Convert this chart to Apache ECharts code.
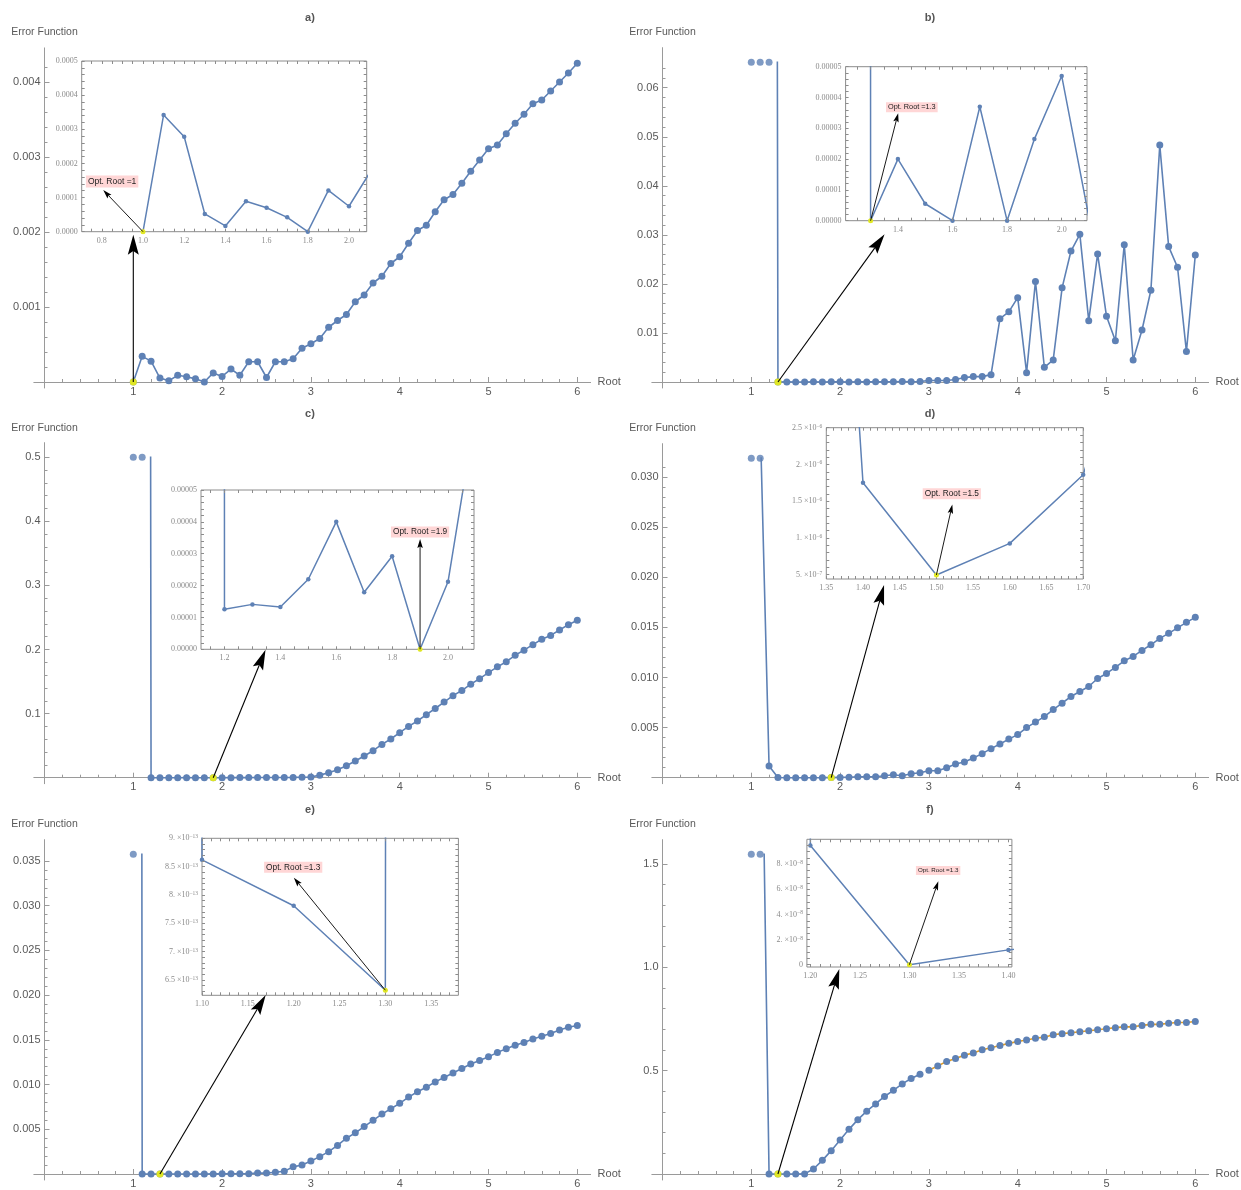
<!DOCTYPE html>
<html>
<head>
<meta charset="utf-8">
<title>Error function against root</title>
<script src="https://cdn.jsdelivr.net/npm/echarts@6.0.0/dist/echarts.min.js"></script>
<style>
  html, body { margin: 0; padding: 0; background: #fff; }
  #chart { width: 1241px; height: 1190px; }
</style>
</head>
<body>
<div id="chart"></div>
<script>
// sampled roots, shared by the six runs
const roots = [1.0, 1.1, 1.2, 1.3, 1.4, 1.5, 1.6, 1.7, 1.8, 1.9,
  2.0, 2.1, 2.2, 2.3, 2.4, 2.5, 2.6, 2.7, 2.8, 2.9,
  3.0, 3.1, 3.2, 3.3, 3.4, 3.5, 3.6, 3.7, 3.8, 3.9,
  4.0, 4.1, 4.2, 4.3, 4.4, 4.5, 4.6, 4.7, 4.8, 4.9,
  5.0, 5.1, 5.2, 5.3, 5.4, 5.5, 5.6, 5.7, 5.8, 5.9, 6.0];

// error function of each run; values above a panel's plot range are off-scale
const errA = [0, 0.000342, 0.000278, 0.000052, 0.000017, 0.000089, 0.00007, 0.000042, 0, 0.000121,
  0.0000745, 0.000172, 0.00009, 0.00027, 0.00027, 0.00006, 0.00027, 0.00027, 0.00031, 0.00045,
  0.00051, 0.00058, 0.00073, 0.00082, 0.0009, 0.00107, 0.00116, 0.00132, 0.00141, 0.00158,
  0.00167, 0.00185, 0.00202, 0.00209, 0.00227, 0.00243, 0.0025, 0.00265, 0.00281, 0.00296,
  0.00311, 0.00316, 0.00331, 0.00345, 0.00357, 0.00371, 0.00376, 0.00388, 0.004, 0.00412, 0.00425];
const errB = [1, 1, 1, 0, 0.00002, 0.0000055, 0, 0.000037, 0, 0.0000265,
  0.000047, 0.000001, 0.00004, 0.00002, 0.00006, 0.00003, 0.00005, 0.00008, 0.00004, 0.0001,
  0.0003, 0.0003, 0.0003, 0.0005, 0.0009, 0.0011, 0.0011, 0.0015, 0.0129, 0.0143,
  0.0172, 0.0019, 0.0205, 0.003, 0.0045, 0.0192, 0.0267, 0.0301, 0.0125, 0.0261,
  0.0134, 0.0084, 0.028, 0.0045, 0.0106, 0.0187, 0.0483, 0.0276, 0.0234, 0.0062, 0.0259];
const errC = [10, 10, 0.0000126, 0.0000141, 0.0000133, 0.000022, 0.00004, 0.0000179, 0.0000292, 0,
  0.0000212, 0.000075, 0.00012, 0.00015, 0.0002, 0.00025, 0.0003, 0.0004, 0.0005, 0.0007,
  0.001, 0.004, 0.0078, 0.0125, 0.0187, 0.026, 0.0338, 0.0421, 0.052, 0.0604,
  0.0702, 0.08, 0.0885, 0.0983, 0.108, 0.118, 0.128, 0.136, 0.146, 0.1545,
  0.164, 0.173, 0.181, 0.191, 0.199, 0.2076, 0.216, 0.222, 0.2305, 0.2388, 0.2456];
const errD = [0.0357, 0.0357, 0.00116, 0.000017, 0.00000175, 0.000000497, 0.000000926, 0.00000186, 0.000005, 0.00001,
  0.00003, 0.00005, 0.0001, 0.0001, 0.0001, 0.0002, 0.0003, 0.0002, 0.0004, 0.0005,
  0.0007, 0.0007, 0.001, 0.00136, 0.00156, 0.00196, 0.0024, 0.0029, 0.00336, 0.00385,
  0.0043, 0.005, 0.00555, 0.0061, 0.0068, 0.00744, 0.0081, 0.0086, 0.0091, 0.0099,
  0.0104, 0.011, 0.01166, 0.0121, 0.0127, 0.01326, 0.0139, 0.0144, 0.01495, 0.0155, 0.016];
const errE = [1, 8.62e-13, 7.81e-13, 6.32e-13, 1e-6, 2e-6, 3e-6, 5e-6, 8e-6, 1e-5,
  1.5e-5, 2e-5, 3e-5, 4e-5, 0.0001, 0.0001, 0.0002, 0.0003, 0.0008, 0.001,
  0.00146, 0.00194, 0.0025, 0.0032, 0.004, 0.0046, 0.0053, 0.006, 0.0067, 0.0073,
  0.0079, 0.0086, 0.0092, 0.0097, 0.0103, 0.0108, 0.0113, 0.0118, 0.0123, 0.0127,
  0.0131, 0.0136, 0.014, 0.0144, 0.0147, 0.0151, 0.0154, 0.0157, 0.0161, 0.0164, 0.0166];
const errF = [2.8, 2.8, 9.5e-8, 0, 1.18e-8, 2e-8, 0.0005, 0.024, 0.066, 0.113,
  0.165, 0.216, 0.263, 0.304, 0.339, 0.375, 0.405, 0.436, 0.462, 0.483,
  0.502, 0.523, 0.544, 0.559, 0.575, 0.585, 0.601, 0.611, 0.622, 0.632,
  0.641, 0.648, 0.657, 0.662, 0.674, 0.679, 0.683, 0.688, 0.693, 0.698,
  0.703, 0.708, 0.712, 0.712, 0.719, 0.724, 0.724, 0.729, 0.733, 0.733, 0.738];

const runs = [errA, errB, errC, errD, errE, errF];
const panelTitles = ['a)', 'b)', 'c)', 'd)', 'e)', 'f)'];
const mainOptimum = [1.0, 1.3, 1.9, 1.9, 1.3, 1.3];
const insetOptimum = [1.0, 1.3, 1.9, 1.5, 1.3, 1.3];
const secondLineFrom = [null, null, null, null, null, 3.0];

// main axes
const plotTop = [0.00426, 0.0652, 0.5, 0.03188, 0.03576, 1.547];
const yMajor = [0.001, 0.01, 0.1, 0.005, 0.005, 0.5];
const yMinor = [0.0002, 0.002, 0.02, 0.001, 0.001, 0.1];
const yDigits = [3, 2, 1, 3, 3, 1];
const xMajor = [1, 2, 3, 4, 5, 6];

// inset windows and their ticks
const insetX = [[0.7024, 2.086], [1.2084, 2.0927], [1.116, 2.093], [1.35, 1.70], [1.10, 1.3797], [1.1965, 1.4035]];
const insetY = [[0, 0.0005], [0, 0.00005], [0, 0.00005], [4.42e-7, 2.5e-6], [6.23e-13, 9e-13], [-0.184e-8, 9.99e-8]];
const insetXStep = [[0.2, 0.05], [0.2, 0.05], [0.2, 0.05], [0.05, 0.01], [0.05, 0.01], [0.05, 0.01]];
const insetYStep = [[0.0001, 0.00002], [0.00001, 0.000002], [0.00001, 0.000002], [5e-7, 1e-7], [5e-14, 1e-14], [2e-8, 5e-9]];
const insetXDigits = [1, 1, 1, 2, 2, 2];
const insetYDigits = [4, 5, 5, 'sci', 'sci', 'sci'];

// ---- layout (pixels) ----
const COL_X = [44.5, 662.5];
const ROW_Y = [382, 777.7, 1174];
const TITLE_X = [310, 930];
const TITLE_Y = [18, 414, 810];
const NAME_Y = [32, 428, 824];
const X_UNIT = 88.8;
const X_PAD = 0.12;      // axis runs a little left of the origin
const Y_PAD = 6;         // and a little below it, in pixels
const Y_UNIT = [75000, 4905, 640.8, 10023, 8943, 206.7];
const INSET_BOX = [[81.7, 61, 366.7, 231.7], [845.6, 66.7, 1087, 220.7], [201, 490, 474, 649.3],
  [826.3, 427.7, 1083.2, 579], [202, 838.3, 458.4, 995.3], [806.9, 839.3, 1011.9, 967]];
// annotation anchors: big arrow tip in main data units, small arrow tip and tag centre in inset units
const ARROW_TIP = [[1.0, 0.001964], [2.501, 0.0301], [2.489, 0.1995], [2.495, 0.01923], [2.491, 0.02002], [1.991, 0.992]];
const POINTER_TIP = [[0.807, 0.000122], [1.401, 0.0000349], [1.9, 0.0000346], [1.5217, 1.454e-6], [1.2002, 8.305e-13], [1.3292, 6.64e-8]];
const TAG_AT = [[0.85, 0.000147], [1.451, 0.0000368], [1.9, 0.0000368], [1.521, 1.603e-6], [1.1995, 8.488e-13], [1.329, 7.5e-8]];
const TAG_SIZE = [8.5, 7.3, 8.3, 8.3, 8.3, 6.2];

const BLUE = '#5e81b5', ORANGE = '#e19c24', YELLOW = '#ffff00';
const AXIS = '#9a9a9a', LABEL = '#595959', FRAME = '#8c8c8c', INSET_LABEL = '#8a8a8a';
const SANS = '"Liberation Sans", Arial, sans-serif';
const SERIF = '"Liberation Serif", "Times New Roman", serif';

function steps(lo, hi, step) {
  const out = [];
  const k0 = Math.ceil(lo / step - 1e-7), k1 = Math.floor(hi / step + 1e-7);
  for (let k = k0; k <= k1; k++) out.push(Number((k * step).toPrecision(10)));
  return out;
}

function sciLabel(v) {
  if (Math.abs(v) < 1e-30) return '{m|0}';
  const e = Math.floor(Math.log10(Math.abs(v)) + 1e-9);
  const m = Math.round(v / Math.pow(10, e) * 10) / 10;
  const ms = Number.isInteger(m) ? m + '.' : String(m);
  return '{m|' + ms + ' \u00d710}{e|' + String(e).replace('-', '\u2212') + '}';
}

// keep far off-scale values bounded so the canvas never gets huge coordinates
function fit(v, lo, hi) {
  const r = (hi - lo) * 500;
  return Math.max(lo - r, Math.min(hi + r, v));
}

const chart = echarts.init(document.getElementById('chart'), null, { renderer: 'canvas' });

const grids = [], xAxes = [], yAxes = [], series = [];
const refs = [];

runs.forEach((vals, i) => {
  const col = i % 2, row = Math.floor(i / 2);
  const ox = COL_X[col], oy = ROW_Y[row];
  const top = plotTop[i], unit = Y_UNIT[i];
  const pts = roots.map((r, k) => [r, vals[k]]);

  // ---- main plot: axes cross at the origin, moved in from the grid edge ----
  const gMain = grids.length;
  grids.push({
    left: ox - X_PAD * X_UNIT, top: oy - top * unit,
    width: (6.15 + X_PAD) * X_UNIT, height: top * unit + Y_PAD,
    containLabel: false, outerBoundsMode: 'none'
  });
  const xm = xAxes.length;
  xAxes.push({
    gridIndex: gMain, type: 'value', min: -X_PAD, max: 6.15, position: 'bottom', offset: -Y_PAD,
    axisLine: { onZero: false, lineStyle: { color: AXIS, width: 1 } },
    axisTick: { inside: true, length: 5, customValues: xMajor, lineStyle: { color: AXIS } },
    axisLabel: { customValues: xMajor, color: LABEL, fontFamily: SANS, fontSize: 11, margin: 4,
      formatter: v => String(v) },
    splitLine: { show: false },
    name: 'Root', nameLocation: 'end', nameGap: 7, nameMoveOverlap: false,
    nameTextStyle: { color: LABEL, fontFamily: SANS, fontSize: 11 }
  });
  xAxes.push({
    gridIndex: gMain, type: 'value', min: -X_PAD, max: 6.15, position: 'bottom', offset: -Y_PAD,
    axisLine: { show: false, onZero: false },
    axisTick: { inside: true, length: 3, customValues: steps(0.2, 6, 0.2), lineStyle: { color: AXIS } },
    axisLabel: { show: false }, splitLine: { show: false }
  });
  const ym = yAxes.length;
  const majors = steps(yMajor[i], top, yMajor[i]);
  yAxes.push({
    gridIndex: gMain, type: 'value', min: -Y_PAD / unit, max: top, position: 'left', offset: -X_PAD * X_UNIT,
    axisLine: { onZero: false, symbol: ['none', 'rect'], symbolSize: [1, 30], lineStyle: { color: AXIS, width: 1 } },
    axisTick: { inside: true, length: 5, customValues: majors, lineStyle: { color: AXIS } },
    axisLabel: { customValues: majors, color: LABEL, fontFamily: SANS, fontSize: 11, margin: 4,
      formatter: v => v.toFixed(yDigits[i]) },
    splitLine: { show: false },
    name: 'Error Function', nameLocation: 'end', nameMoveOverlap: false,
    nameGap: (oy - top * unit) - (NAME_Y[row] + 5.5),
    nameTextStyle: { color: LABEL, fontFamily: SANS, fontSize: 10.5 }
  });
  yAxes.push({
    gridIndex: gMain, type: 'value', min: -Y_PAD / unit, max: top, position: 'left', offset: -X_PAD * X_UNIT,
    axisLine: { show: false, onZero: false },
    axisTick: { inside: true, length: 3, customValues: steps(yMinor[i], top, yMinor[i]), lineStyle: { color: AXIS } },
    axisLabel: { show: false }, splitLine: { show: false }
  });

  const split = secondLineFrom[i];
  const first = split == null ? pts : pts.filter(q => q[0] < split - 1e-9);
  const lineOf = (data, color) => ({
    type: 'line', xAxisIndex: xm, yAxisIndex: ym, data: data,
    symbol: 'circle', symbolSize: 7, itemStyle: { color: BLUE },
    lineStyle: { color: color, width: 1.6 }, clip: true, z: 2, silent: true
  });
  series.push(lineOf(first, BLUE));
  if (split != null) series.push(lineOf(pts.filter(q => q[0] >= split - 1e-9), ORANGE));
  // off-scale samples sit on the top edge of the plot range
  series.push({
    type: 'scatter', xAxisIndex: xm, yAxisIndex: ym,
    data: pts.filter(q => q[1] > top).map(q => [q[0], top]),
    symbolSize: 7, itemStyle: { color: BLUE }, clip: false, z: 3, silent: true
  });
  const km = roots.findIndex(r => Math.abs(r - mainOptimum[i]) < 1e-9);
  series.push({
    type: 'scatter', xAxisIndex: xm, yAxisIndex: ym, data: [pts[km]],
    symbolSize: 7, itemStyle: { color: YELLOW }, z: 4, silent: true
  });

  // ---- inset ----
  const b = INSET_BOX[i];
  const gIn = grids.length;
  grids.push({
    left: b[0], top: b[1], width: b[2] - b[0], height: b[3] - b[1],
    show: true, backgroundColor: '#fff', borderColor: FRAME, borderWidth: 1, z: 10,
    containLabel: false, outerBoundsMode: 'none'
  });
  const [xlo, xhi] = insetX[i], [ylo, yhi] = insetY[i];
  const xTicks = steps(xlo, xhi, insetXStep[i][1]);
  const yTicks = steps(ylo, yhi, insetYStep[i][1]);
  const tick = (vals) => ({ inside: true, length: 3, customValues: vals, lineStyle: { color: FRAME } });
  const base = { gridIndex: gIn, type: 'value', z: 12, splitLine: { show: false }, axisLine: { show: false, onZero: false } };
  const yFmt = insetYDigits[i] === 'sci' ? sciLabel : v => v.toFixed(insetYDigits[i]);
  const xi = xAxes.length;
  xAxes.push(Object.assign({}, base, {
    min: xlo, max: xhi, position: 'bottom', axisTick: tick(xTicks),
    axisLabel: { customValues: steps(xlo, xhi, insetXStep[i][0]), color: INSET_LABEL, fontFamily: SERIF,
      fontSize: 8, margin: 5, formatter: v => v.toFixed(insetXDigits[i]) }
  }));
  xAxes.push(Object.assign({}, base, { min: xlo, max: xhi, position: 'top', axisTick: tick(xTicks), axisLabel: { show: false } }));
  const yi = yAxes.length;
  yAxes.push(Object.assign({}, base, {
    min: ylo, max: yhi, position: 'left', axisTick: tick(yTicks),
    axisLabel: {
      customValues: steps(ylo, yhi, insetYStep[i][0]), color: INSET_LABEL, fontFamily: SERIF,
      fontSize: 8, margin: 4, formatter: yFmt,
      rich: {
        m: { fontFamily: SERIF, fontSize: 8, color: INSET_LABEL, lineHeight: 9 },
        e: { fontFamily: SERIF, fontSize: 5.5, color: INSET_LABEL, verticalAlign: 'top', lineHeight: 9 }
      }
    }
  }));
  yAxes.push(Object.assign({}, base, { min: ylo, max: yhi, position: 'right', axisTick: tick(yTicks), axisLabel: { show: false } }));

  const inset = {
    type: 'line', xAxisIndex: xi, yAxisIndex: yi,
    data: pts.map(q => [q[0], fit(q[1], ylo, yhi)]),
    symbol: 'circle', symbolSize: 4.5, itemStyle: { color: BLUE },
    lineStyle: { color: BLUE, width: 1.5 }, clip: true, z: 11, silent: true
  };
  if (ylo < 0) {
    inset.markLine = {
      silent: true, symbol: ['none', 'none'], label: { show: false },
      lineStyle: { color: '#dcdcdc', width: 3, type: 'solid' }, data: [{ yAxis: 0 }]
    };
  }
  series.push(inset);
  const ki = roots.findIndex(r => Math.abs(r - insetOptimum[i]) < 1e-9);
  series.push({
    type: 'scatter', xAxisIndex: xi, yAxisIndex: yi, data: [pts[ki]],
    symbolSize: 5, itemStyle: { color: YELLOW }, z: 12, silent: true
  });

  refs.push({ xm, ym, xi, yi, main: pts[km], ins: pts[ki], col, row });
});

chart.setOption({
  animation: false,
  backgroundColor: '#fff',
  grid: grids,
  xAxis: xAxes,
  yAxis: yAxes,
  series: series
});

// ---- annotations: arrows, tags and panel titles ----
function arrow(from, to, len, wid, lw) {
  const dx = to[0] - from[0], dy = to[1] - from[1], d = Math.hypot(dx, dy);
  const ux = dx / d, uy = dy / d, nx = -uy, ny = ux;
  const bx = to[0] - ux * len, by = to[1] - uy * len;
  const notch = [to[0] - ux * len * 0.82, to[1] - uy * len * 0.82];
  return [
    { type: 'line', silent: true, z: 40,
      shape: { x1: from[0], y1: from[1], x2: notch[0], y2: notch[1] },
      style: { stroke: '#000', lineWidth: lw } },
    { type: 'polygon', silent: true, z: 40,
      shape: { points: [to, [bx + nx * wid / 2, by + ny * wid / 2], notch, [bx - nx * wid / 2, by - ny * wid / 2]] },
      style: { fill: '#000' } }
  ];
}

const marks = [];
refs.forEach((r, i) => {
  const toMain = p => chart.convertToPixel({ xAxisIndex: r.xm, yAxisIndex: r.ym }, p);
  const toInset = p => chart.convertToPixel({ xAxisIndex: r.xi, yAxisIndex: r.yi }, p);
  marks.push(...arrow(toMain(r.main), toMain(ARROW_TIP[i]), 20, 11, 1.1));
  marks.push(...arrow(toInset(r.ins), toInset(POINTER_TIP[i]), 9, 5.5, 0.9));
  const t = toInset(TAG_AT[i]);
  marks.push({
    type: 'text', silent: true, z: 41, x: t[0], y: t[1],
    style: {
      text: 'Opt. Root =' + insetOptimum[i], fontFamily: SANS, fontSize: TAG_SIZE[i], fill: '#222',
      backgroundColor: '#ffd6d6', padding: [1.5, 2], align: 'center', verticalAlign: 'middle'
    }
  });
  marks.push({
    type: 'text', silent: true, z: 41, x: TITLE_X[r.col], y: TITLE_Y[r.row],
    style: {
      text: panelTitles[i], fontFamily: SANS, fontSize: 11, fontWeight: 'bold', fill: '#555',
      align: 'center', verticalAlign: 'middle'
    }
  });
});

chart.setOption({ graphic: { elements: marks } });
</script>
</body>
</html>
